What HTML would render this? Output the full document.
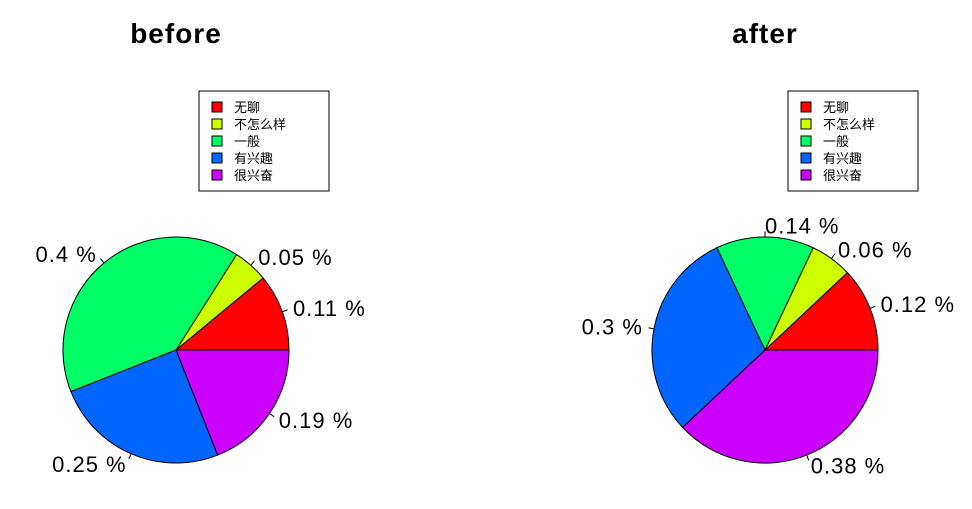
<!DOCTYPE html>
<html><head><meta charset="utf-8"><style>
body{margin:0;background:#fff}
svg{display:block;font-family:"Liberation Sans","Noto Sans CJK SC",sans-serif}
</style></head><body>
<svg id="c" width="972" height="509" viewBox="0 0 972 509"></svg>
<script>
const categories=["无聊","不怎么样","一般","有兴趣","很兴奋"];
const colors=["#FF0000","#CCFF00","#00FF66","#0066FF","#CC00FF"];
const beforeValues=[0.11,0.05,0.4,0.25,0.19];
const afterValues=[0.12,0.06,0.14,0.3,0.38];
const beforeLabels=["0.11 %","0.05 %","0.4 %","0.25 %","0.19 %"];
const afterLabels=["0.12 %","0.06 %","0.14 %","0.3 %","0.38 %"];
const NS="http://www.w3.org/2000/svg";
const svg=document.getElementById('c');
function mk(t,a,p){const e=document.createElementNS(NS,t);for(const k in a)e.setAttribute(k,a[k]);(p||svg).appendChild(e);return e;}
function pie(name,title,vals,labels,cx,cy,r,lx){
  const g=mk('g',{});
  
  
  const t=mk('text',{x:cx,y:43,'text-anchor':'middle','font-size':28,'font-weight':'bold','letter-spacing':1},g);t.textContent=title;
  
  
  const tot=vals.reduce((a,b)=>a+b,0);let a0=0;
  vals.forEach((v,i)=>{
    const a1=a0+v/tot*2*Math.PI;
    const x0=cx+r*Math.cos(a0),y0=cy-r*Math.sin(a0),x1=cx+r*Math.cos(a1),y1=cy-r*Math.sin(a1);
    const p=mk('path',{d:`M${cx},${cy}L${x0},${y0}A${r},${r} 0 ${a1-a0>Math.PI?1:0} 0 ${x1},${y1}Z`,fill:colors[i],stroke:'#000','stroke-width':1},g);
    
    
    const m=(a0+a1)/2,c=Math.cos(m),s=Math.sin(m);
    mk('line',{x1:cx+r*c,y1:cy-r*s,x2:cx+1.05*r*c,y2:cy-1.05*r*s,stroke:'#000'},g);
    const tx=mk('text',{x:cx+1.1*r*c,y:cy-1.1*r*s+8,'text-anchor':c>=0?'start':'end','font-size':22,'letter-spacing':1},g);
    tx.textContent=labels[i];
    
    
    a0=a1;
  });
  const lg=mk('g',{},g);
  
  
  mk('rect',{x:lx,y:91,width:130,height:100,fill:'#fff',stroke:'#000'},lg);
  categories.forEach((c,i)=>{
    const y=107+i*17;
    mk('rect',{x:lx+13,y:y-5,width:10,height:10,fill:colors[i],stroke:'#000'},lg);
    const e=mk('text',{x:lx+35,y:y+5,'font-size':13},lg);e.textContent=c;
    
    
  });
}
pie('before','before',beforeValues,beforeLabels,176,350,113,199);
pie('after','after',afterValues,afterLabels,765,350,113,788);
</script>
</body></html>
